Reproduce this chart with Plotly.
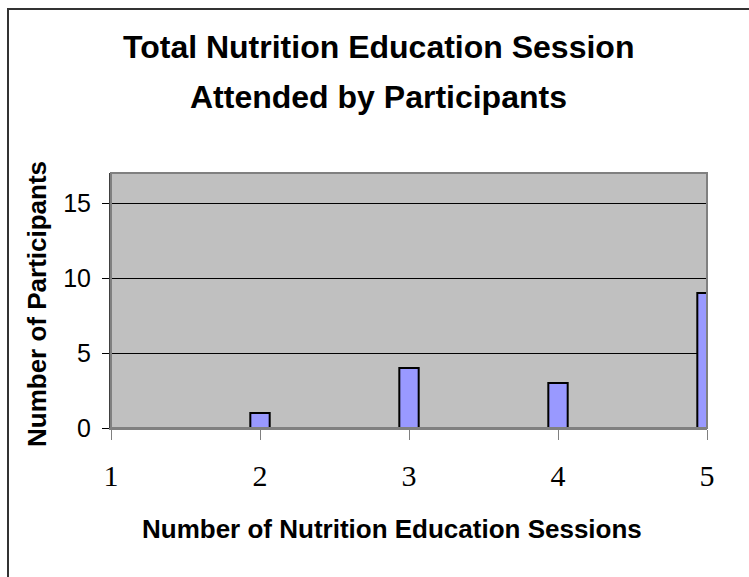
import plotly.graph_objects as go

sessions = [2, 3, 4, 5]
participants = [1, 4, 3, 9]
x_ticks = [1, 2, 3, 4, 5]
y_ticks = [0, 5, 10, 15]

W, H = 749, 577
L, R, T, B = 111, 707, 173, 428
pw, ph = R - L, B - T

def px(x):
    return (x - L) / pw

def py(y):
    return (B - y) / ph

SANS = "Liberation Sans, Arial, sans-serif"
SERIF = "Liberation Serif, Times New Roman, serif"

fig = go.Figure()
fig.add_trace(go.Bar(
    x=sessions, y=participants, width=0.13,
    marker=dict(color="#9999FF", line=dict(color="black", width=2)),
    showlegend=False, hoverinfo="skip",
))

fig.update_layout(
    width=W, height=H,
    margin=dict(l=L, r=W - R, t=T, b=H - B, pad=0),
    paper_bgcolor="white",
    plot_bgcolor="#C0C0C0",
    xaxis=dict(
        range=[1, 5], tickvals=x_ticks, ticktext=[str(v) for v in x_ticks],
        showgrid=False, zeroline=False,
        ticks="outside", ticklen=10, tickcolor="#808080", tickwidth=1,
        showline=True, linecolor="#808080", linewidth=2,
        ticklabelstandoff=10,
        tickfont=dict(family=SERIF, size=30, color="black"),
    ),
    yaxis=dict(
        range=[0, 17], tickvals=y_ticks,
        showgrid=True, gridcolor="black", gridwidth=1, zeroline=False,
        ticks="outside", ticklen=7, tickcolor="black", tickwidth=1,
        showline=True, linecolor="#404040", linewidth=2,
        ticklabelstandoff=6,
        tickfont=dict(family=SANS, size=25, color="black"),
    ),
    shapes=[
        dict(type="rect", xref="paper", yref="paper", x0=0, x1=1, y0=0, y1=1,
             line=dict(color="#808080", width=2), fillcolor="rgba(0,0,0,0)", layer="above"),
        dict(type="rect", xref="paper", yref="paper", x0=px(8), x1=px(790), y0=py(620), y1=py(9),
             line=dict(color="#333333", width=2), fillcolor="rgba(0,0,0,0)"),
    ],
    annotations=[
        dict(text="<b>Total Nutrition Education Session</b>", xref="paper", yref="paper",
             x=px(378), y=py(47), showarrow=False, xanchor="center", yanchor="middle",
             font=dict(family=SANS, size=32, color="black")),
        dict(text="<b>Attended by Participants</b>", xref="paper", yref="paper",
             x=px(378), y=py(97), showarrow=False, xanchor="center", yanchor="middle",
             font=dict(family=SANS, size=32, color="black")),
        dict(text="<b>Number of Nutrition Education Sessions</b>", xref="paper", yref="paper",
             x=px(392), y=py(529), showarrow=False, xanchor="center", yanchor="middle",
             font=dict(family=SANS, size=26, color="black")),
        dict(text="<b>Number of Participants</b>", xref="paper", yref="paper",
             x=px(37), y=py(304), showarrow=False, xanchor="center", yanchor="middle",
             textangle=-90,
             font=dict(family=SANS, size=26, color="black")),
    ],
)

fig.write_html("out.html", config={"displayModeBar": False},
               post_script="document.body.style.margin='0';document.body.style.overflow='hidden';")
